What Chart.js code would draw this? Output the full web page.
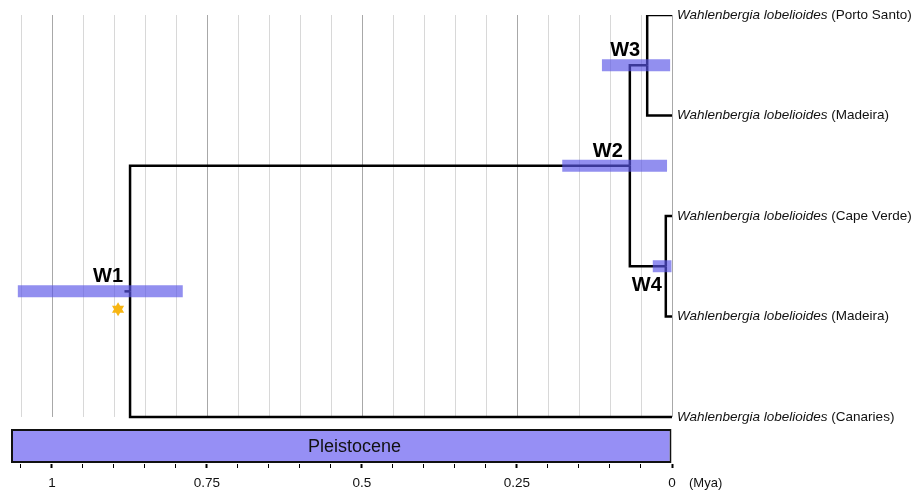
<!DOCTYPE html>
<html>
<head>
<meta charset="utf-8">
<script src="https://cdn.jsdelivr.net/npm/chart.js@4.4.1/dist/chart.umd.min.js"></script>
<style>
  html, body { margin: 0; padding: 0; background: #fff; }
  #wrap { width: 912px; height: 492px; position: relative; }
</style>
</head>
<body>
<div id="wrap"><canvas id="tree"></canvas></div>
<script>
const species = 'Wahlenbergia lobelioides';
const tipPlaces = ['Porto Santo', 'Madeira', 'Cape Verde', 'Madeira', 'Canaries'];
const nodeNames = ['W1', 'W2', 'W3', 'W4'];
const nodeAges = [0.874, 0.068, 0.040, 0.010];
const hpdLow = [0.789, 0.008, 0.003, 0.000];
const hpdHigh = [1.055, 0.177, 0.113, 0.031];
// children of each node: a node name or a tip index
const nodeChildren = [['W2', 4], ['W3', 'W4'], [0, 1], [2, 3]];
const rootStemAge = 0.883;
const epochNames = ['Pleistocene'];
const epochFrom = [1.066];
const epochTo = [0];
const axisMax = 1.066;
const tickValues = [1, 0.75, 0.5, 0.25, 0];
const tickLabels = ['1', '0.75', '0.5', '0.25', '0'];

const FONT = "'Liberation Sans', Arial, sans-serif";
const rowMax = 4.468;      // y range incl. epoch band
const epochRowY = 4.289;

const nodeY = {};
function yOf(c) {
  if (typeof c === 'number') return c;
  if (nodeY[c] === undefined) {
    const kids = nodeChildren[nodeNames.indexOf(c)];
    nodeY[c] = (yOf(kids[0]) + yOf(kids[1])) / 2;
  }
  return nodeY[c];
}
function ageOf(c) {
  return typeof c === 'number' ? 0 : nodeAges[nodeNames.indexOf(c)];
}
function isMajor(v) {
  return tickValues.some(t => Math.abs(t - v) < 1e-6);
}

const lineStyle = {
  type: 'line', borderColor: '#000', borderWidth: 2.5, pointRadius: 0,
  fill: false, tension: 0, borderJoinStyle: 'miter', order: 2
};

const branches = [];
nodeNames.forEach((n, i) => {
  nodeChildren[i].forEach(c => {
    branches.push(Object.assign({}, lineStyle, {
      data: [
        { x: nodeAges[i], y: yOf(n) },
        { x: nodeAges[i], y: yOf(c) },
        { x: ageOf(c), y: yOf(c) }
      ]
    }));
  });
});
branches.push(Object.assign({}, lineStyle, {
  data: [{ x: rootStemAge, y: yOf('W1') }, { x: nodeAges[0], y: yOf('W1') }]
}));

const hpdBars = {
  type: 'bar', indexAxis: 'y', grouped: false, order: 0,
  data: nodeNames.map((n, i) => ({ x: [hpdLow[i], hpdHigh[i]], y: yOf(n) })),
  backgroundColor: 'rgba(90,85,230,0.66)', borderWidth: 0, maxBarThickness: 12
};

const epochBar = {
  type: 'bar', indexAxis: 'y', yAxisID: 'y2', grouped: false, order: 3,
  data: epochNames.map((e, i) => ({ x: [epochTo[i], epochFrom[i]], y: epochRowY })),
  backgroundColor: '#968ff5', borderColor: '#111', borderWidth: 2,
  borderSkipped: false, maxBarThickness: 36
};

function drawStar(ctx, cx, cy, r) {
  ctx.beginPath();
  for (let t = 0; t < 2; t++) {
    for (let k = 0; k < 3; k++) {
      const a = -Math.PI / 2 + t * Math.PI + k * 2 * Math.PI / 3;
      const px = cx + r * Math.cos(a), py = cy + r * Math.sin(a);
      if (k === 0) ctx.moveTo(px, py); else ctx.lineTo(px, py);
    }
    ctx.closePath();
  }
  ctx.fill();
}

const treeDecor = {
  id: 'treeDecor',
  beforeDatasetsDraw(chart) {
    const { ctx, scales: { x, y } } = chart;
    const top = y.getPixelForValue(0), bot = y.getPixelForValue(tipPlaces.length - 1);
    ctx.save();
    ctx.lineWidth = 1;
    x.ticks.forEach(t => {
      const px = Math.round(x.getPixelForValue(t.value)) + 0.5;
      ctx.strokeStyle = isMajor(t.value) ? '#a8a8a8' : '#d8d8d8';
      ctx.beginPath();
      ctx.moveTo(px, top);
      ctx.lineTo(px, bot);
      ctx.stroke();
    });
    ctx.restore();
  },
  afterDatasetsDraw(chart) {
    const { ctx, scales: { x, y, y2 } } = chart;
    ctx.save();
    // node labels
    ctx.fillStyle = '#000';
    ctx.font = 'bold 20px ' + FONT;
    ctx.textAlign = 'right';
    ctx.textBaseline = 'alphabetic';
    nodeNames.forEach((n, i) => {
      const px = x.getPixelForValue(nodeAges[i]);
      const py = y.getPixelForValue(yOf(n));
      if (n === 'W4') ctx.fillText(n, px - 4, py + 25);
      else ctx.fillText(n, px - 7, py - 9);
    });
    // calibration star at W1
    ctx.fillStyle = '#f7b512';
    drawStar(ctx, x.getPixelForValue(nodeAges[0]) - 12, y.getPixelForValue(yOf('W1')) + 18, 7);
    // tip labels
    ctx.fillStyle = '#111';
    ctx.textAlign = 'left';
    ctx.textBaseline = 'middle';
    const x0 = x.getPixelForValue(0) + 5;
    tipPlaces.forEach((p, t) => {
      const py = y.getPixelForValue(t);
      ctx.font = 'italic 13.5px ' + FONT;
      ctx.fillText(species, x0, py);
      const w = ctx.measureText(species).width;
      ctx.font = '13.5px ' + FONT;
      ctx.fillText(' (' + p + ')', x0 + w, py);
    });
    // epoch name
    ctx.font = '18px ' + FONT;
    ctx.textAlign = 'center';
    epochNames.forEach((e, i) => {
      const cx = (x.getPixelForValue(epochFrom[i]) + x.getPixelForValue(epochTo[i])) / 2 + 13;
      ctx.fillText(e, cx, y2.getPixelForValue(epochRowY) + 1);
    });
    // unit
    ctx.font = '13px ' + FONT;
    ctx.textAlign = 'left';
    ctx.fillText('(Mya)', x.getPixelForValue(0) + 17, x.top + 19);
    ctx.restore();
  }
};

new Chart(document.getElementById('tree'), {
  type: 'line',
  data: { datasets: [hpdBars, ...branches, epochBar] },
  options: {
    responsive: true,
    maintainAspectRatio: false,
    animation: false,
    layout: { padding: { left: 11, right: 240, top: 15, bottom: 0 } },
    plugins: { legend: { display: false }, tooltip: { enabled: false } },
    scales: {
      x: {
        type: 'linear', reverse: true, min: 0, max: axisMax, offset: false,
        afterFit: s => { s.height = 28; },
        border: { display: false },
        grid: {
          offset: false, drawOnChartArea: false, drawTicks: true, tickLength: 4,
          tickColor: '#000', tickWidth: c => (c.tick && isMajor(c.tick.value) ? 2 : 1)
        },
        ticks: {
          stepSize: 0.05, includeBounds: false, autoSkip: false, maxRotation: 0,
          padding: 7, color: '#111', font: { family: FONT, size: 13.5 },
          callback: v => {
            const k = tickValues.findIndex(t => Math.abs(t - v) < 1e-6);
            return k >= 0 ? tickLabels[k] : '';
          }
        }
      },
      y: { type: 'linear', display: false, reverse: true, min: 0, max: rowMax, offset: false, grid: { offset: false } },
      y2: { type: 'linear', display: false, reverse: true, min: 0, max: rowMax, offset: false, grid: { offset: false } }
    }
  },
  plugins: [treeDecor]
});
</script>
</body>
</html>
